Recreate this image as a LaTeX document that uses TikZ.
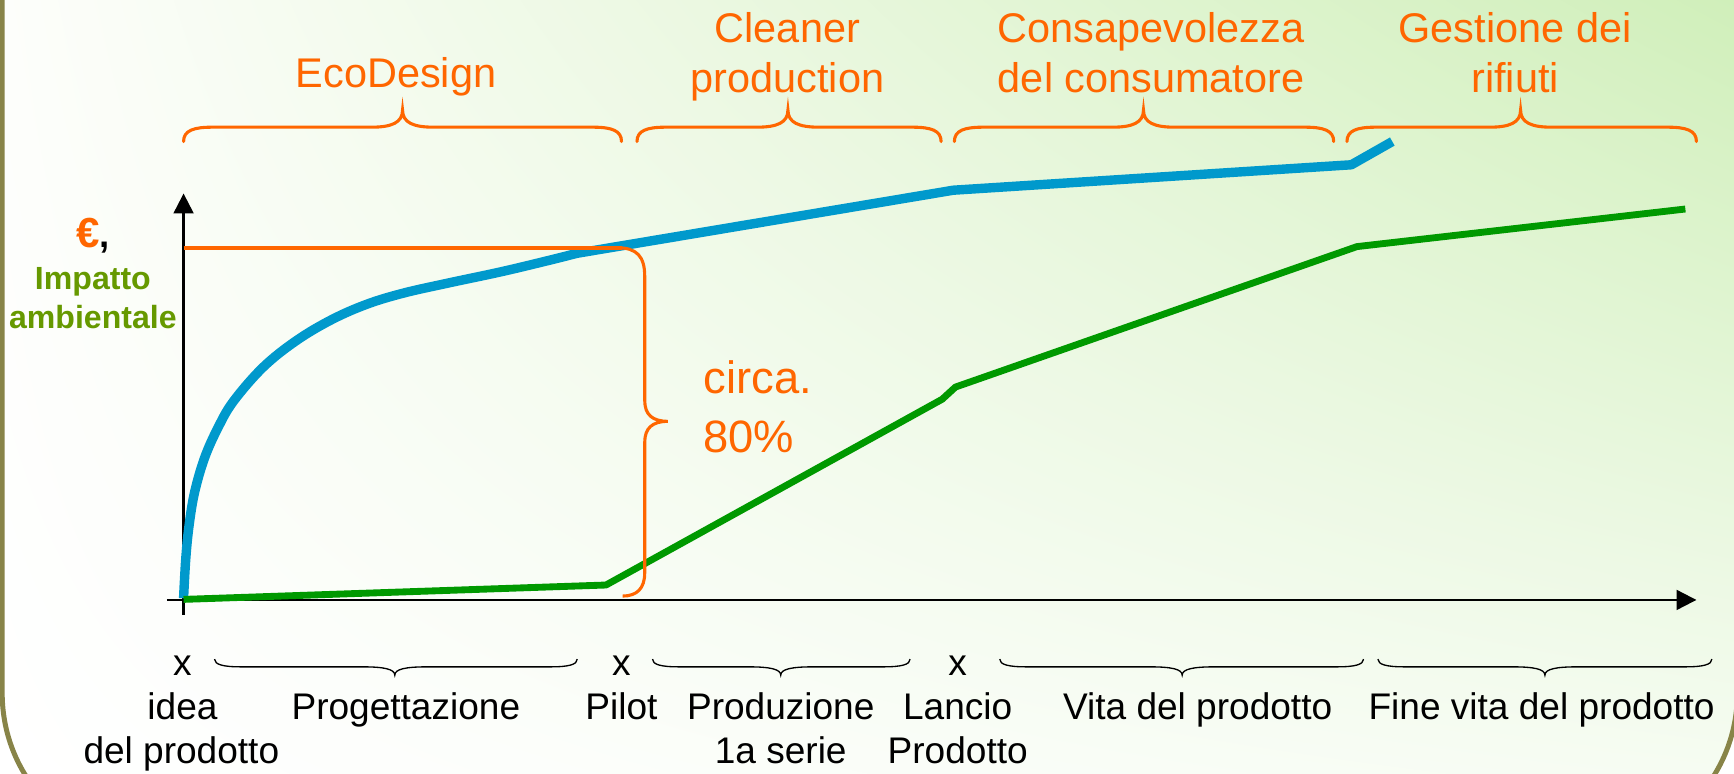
\documentclass[tikz,border=0pt]{standalone}
\usepackage{fontspec}
\setmainfont{Liberation Sans}
\usetikzlibrary{arrows.meta,shadings}
\definecolor{orangec}{RGB}{255,102,0}
\definecolor{bluec}{RGB}{0,153,204}
\definecolor{greenc}{RGB}{0,153,0}
\definecolor{textgreen}{RGB}{102,153,0}
\definecolor{framec}{RGB}{136,132,72}
\definecolor{bggreen}{RGB}{208,239,186}
\definecolor{bglr}{RGB}{246,252,242}
\definecolor{bgul}{RGB}{253,254,251}
\newcommand{\topbrace}[3]{%
  \draw[obrace] (#1,-128) .. controls (#1,-118) and (#1+9,-115) .. (#1+26,-115)
    -- (#2-28,-115) .. controls (#2-10,-115) and (#2,-111) .. (#2,-99.5)
    .. controls (#2,-111) and (#2+10,-115) .. (#2+28,-115)
    -- (#3-26,-115) .. controls (#3-9,-115) and (#3,-118) .. (#3,-128);}
\newcommand{\botbrace}[3]{%
  \draw[kbrace] (#1,-596) .. controls (#1,-601) and (#1+8,-603) .. (#1+24,-603)
    -- (#2-29,-603) .. controls (#2-10,-603) and (#2,-605) .. (#2,-610.5)
    .. controls (#2,-605) and (#2+10,-603) .. (#2+29,-603)
    -- (#3-24,-603) .. controls (#3-8,-603) and (#3,-601) .. (#3,-596);}
\begin{document}
\begin{tikzpicture}[x=1pt,y=1pt,
  obrace/.style={draw=orangec, line width=2.8pt, line cap=round},
  kbrace/.style={draw=black, line width=1.2pt},
  toplab/.style={text=orangec, font=\fontsize{37.5}{45}\selectfont, anchor=base, inner sep=0pt},
  botlab/.style={text=black, font=\fontsize{33.5}{40}\selectfont, anchor=base, inner sep=0pt},
  axisline/.style={draw=black, line width=2pt, -{Triangle[length=18pt,width=18pt]}},
]
\useasboundingbox (0,0) rectangle (1568,-699);
\fill[white] (0,0) rectangle (1568,-699);
% background gradient inside frame
\begin{scope}
  \clip[rounded corners=141pt] (2,200) rectangle (1571,-768);
  \shade[shading=bilinear interpolation, upper left=bgul, upper right=bggreen, lower left=white, lower right=bglr]
    (0,0) rectangle (1568,-699);
\end{scope}
\draw[framec, line width=4.5pt, rounded corners=141pt] (2,200) rectangle (1571,-768);

% axes
\coordinate (yb) at (166,-556);
\coordinate (yt) at (166,-175);
\coordinate (xl) at (151,-542.5);
\coordinate (xr) at (1534,-542.5);
\draw[axisline] (yb) -- (yt);
\draw[axisline] (xl) -- (xr);

% blue curve
\draw[bluec, line width=8.5pt, line join=round]
  plot[smooth, tension=0.6] coordinates {(166,-541) (168,-505) (171,-475) (176,-445) (185,-414) (197,-387) (211,-363) (238,-332) (268,-308) (300,-289) (332,-275) (365,-265) (405,-256) (452,-246) (490,-237) (522,-229)}
  -- (862,-172) -- (1222,-149) -- (1259,-128);

% green line
\draw[greenc, line width=6.2pt, line join=round]
  (166,-542) -- (548,-529) -- (852,-361) -- (864,-350) -- (1227,-223) -- (1524,-189);

% orange level line and vertical brace
\draw[orangec, line width=3.6pt] (166,-224) -- (562,-224);
\draw[obrace, line cap=butt] (558,-224) .. controls (576,-224) and (583,-232) .. (583,-250)
  -- (583,-362) .. controls (583,-375) and (590,-381) .. (604,-381)
  .. controls (590,-381) and (583,-387) .. (583,-400)
  -- (583,-518) .. controls (583,-532) and (576,-539) .. (563,-539);

% top braces
\topbrace{166}{364}{562}
\topbrace{576}{712.5}{851}
\topbrace{863}{1034}{1206}
\topbrace{1218}{1375}{1534}

% bottom braces
\botbrace{194}{357}{522}
\botbrace{590}{706}{823}
\botbrace{904}{1069}{1233}
\botbrace{1246}{1397}{1548}

% top labels
\node[toplab] (eco) at (358,-79) {EcoDesign};
\node[toplab] (clean1) at (712,-38) {Cleaner};
\node[toplab] (clean2) at (712,-83.5) {production};
\node[toplab] (cons1) at (1041,-38) {Consapevolezza};
\node[toplab] (cons2) at (1041,-83.5) {del consumatore};
\node[toplab] (gest1) at (1370,-38) {Gestione dei};
\node[toplab] (gest2) at (1370,-83.5) {rifiuti};

% left labels
\node[anchor=base west, inner sep=0pt, font=\bfseries] (euro) at (69,-224) {\textcolor{orangec}{\fontsize{38}{44}\selectfont €}\fontsize{33}{40}\selectfont,};
\node[anchor=base, inner sep=0pt, text=textgreen, font=\fontsize{29}{35}\selectfont\bfseries] (imp1) at (84,-262) {Impatto};
\node[anchor=base, inner sep=0pt, text=textgreen, font=\fontsize{29}{35}\selectfont\bfseries] (imp2) at (84,-297) {ambientale};

% circa 80%
\node[anchor=base west, inner sep=0pt, text=orangec, font=\fontsize{41}{50}\selectfont] (circa) at (636,-356) {circa.};
\node[anchor=base west, inner sep=0pt, text=orangec, font=\fontsize{41}{50}\selectfont] (perc) at (636,-409) {80\%};

% bottom labels
\node[botlab] (x1) at (165,-611) {x};
\node[botlab] (x2) at (562,-611) {x};
\node[botlab] (x3) at (866,-611) {x};
\node[botlab] (idea) at (165,-651) {idea};
\node[botlab] (delprod) at (164,-690) {del prodotto};
\node[botlab] (prog) at (367,-651) {Progettazione};
\node[botlab] (pilot) at (562,-651) {Pilot};
\node[botlab] (produz) at (706,-651) {Produzione};
\node[botlab] (serie) at (706,-690) {1a serie};
\node[botlab] (lancio) at (866,-651) {Lancio};
\node[botlab] (prodotto) at (866,-690) {Prodotto};
\node[botlab] (vita) at (1083,-651) {Vita del prodotto};
\node[botlab] (fine) at (1394,-651) {Fine vita del prodotto};
\end{tikzpicture}
\end{document}
